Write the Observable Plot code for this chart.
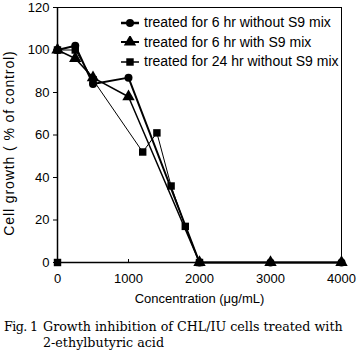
<!DOCTYPE html>
<html><head><meta charset="utf-8">
<script src="https://cdn.jsdelivr.net/npm/d3@7"></script>
<script src="https://cdn.jsdelivr.net/npm/@observablehq/plot@0.6"></script>
<style>
body{margin:0;background:#fff;}
#wrap{position:relative;width:357px;font-family:Arial,"Liberation Sans",sans-serif;color:#000;}
#legend{position:absolute;left:121px;top:13px;font-size:14px;line-height:19.5px;}
.row{display:flex;align-items:center;height:19.5px;white-space:nowrap;}
.row svg{margin-right:5px;}
#ylabel{position:absolute;left:9px;top:143px;transform:translate(-50%,-50%) rotate(-90deg);white-space:nowrap;font-size:14px;letter-spacing:0.9px;}
#caption{font-family:"DejaVu Serif","Liberation Serif",serif;font-size:12.7px;line-height:16px;margin-top:9px;display:grid;grid-template-columns:39px auto;padding-left:4px;white-space:nowrap;}
#fig{letter-spacing:-0.6px;}
</style>
</head><body>
<div id="wrap"><div id="chart"></div><div id="legend"></div><div id="ylabel"></div>
<div id="caption"><div id="fig"></div><div id="captext"></div></div>
</div>
<script>
const seriesNames = ["treated for 6 hr without S9 mix","treated for 6 hr with S9 mix","treated for 24 hr without S9 mix"];
const seriesSymbols = ["circle","triangle","square"];
const s1Dose = [0,250,500,1000,2000,3000,4000];
const s1Growth = [100,102,84,87,0,0,0];
const s2Dose = [0,250,500,1000,2000,3000,4000];
const s2Growth = [100,96,87,78,0,0,0];
const s3Dose = [0,0,250,500,1200,1400,1600,1800,2000];
const s3Growth = [0,100,100,86,52,61,36,17,0];
const xTicks = [0,1000,2000,3000,4000];
const yTicks = [0,20,40,60,80,100,120];
const xLabel = "Concentration (μg/mL)";
const yLabel = "Cell growth ( % of control)";
const figLabel = "Fig. 1";
const captionLines = ["Growth inhibition of CHL/IU cells treated with","2-ethylbutyric acid"];

const mk = (dose, g) => dose.map((d,i)=>({dose:d, growth:g[i]}));
const data = [mk(s1Dose,s1Growth), mk(s2Dose,s2Growth), mk(s3Dose,s3Growth)];
const widths = [2,1.5,1];
const sizes = [4,4.6,4.2];
const order = [2,1,0];

const marks = [Plot.frame({stroke:"black", strokeWidth:1})];
for (const k of order) {
  marks.push(Plot.line(data[k], {x:"dose", y:"growth", stroke:"black", strokeWidth:widths[k]}));
  marks.push(Plot.dot(data[k], {x:"dose", y:"growth", symbol:()=>seriesSymbols[k], fill:"black", stroke:"none", r:sizes[k]}));
}
marks.push(Plot.ruleX([0],{strokeWidth:1.5}));
marks.push(Plot.ruleY([0],{strokeWidth:1.5}));
marks.push(Plot.axisY({ticks:yTicks, tickSize:4, tickPadding:4, label:null}));
marks.push(Plot.axisX({ticks:xTicks, tickSize:-3, tickPadding:14, tickFormat:d3.format("d"), label:xLabel, labelAnchor:"center", labelArrow:"none", labelOffset:40}));

const chart = Plot.plot({
  width:357, height:310,
  marginTop:7, marginBottom:48, marginLeft:57, marginRight:16,
  x:{domain:[0,4000]},
  y:{domain:[0,120]},
  style:{fontSize:"13px", fontFamily:"Arial, 'Liberation Sans', sans-serif", color:"black", background:"white", overflow:"visible"},
  marks
});
document.getElementById("chart").appendChild(chart);
document.getElementById("ylabel").textContent = yLabel;
document.getElementById("fig").textContent = figLabel;
document.getElementById("captext").innerHTML = captionLines.join("<br>");

const legend = document.getElementById("legend");
seriesNames.forEach((name,k)=>{
  const row = document.createElement("div"); row.className="row";
  const sym = d3.symbol(k===0?d3.symbolCircle:k===1?d3.symbolTriangle:d3.symbolSquare, Math.PI*sizes[k]*sizes[k])();
  row.innerHTML = `<svg width="18" height="12"><line x1="0" x2="18" y1="6" y2="6" stroke="black" stroke-width="${widths[k]+0.5}"/><path d="${sym}" transform="translate(9,6)" fill="black"/></svg><span>${name}</span>`;
  legend.appendChild(row);
});
</script>
</body></html>
